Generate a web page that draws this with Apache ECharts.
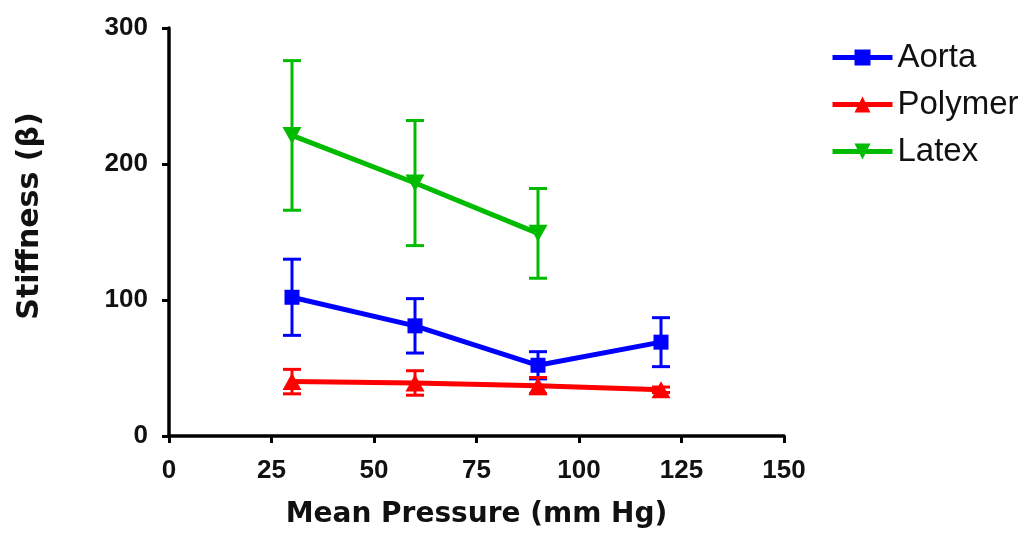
<!DOCTYPE html>
<html>
<head>
<meta charset="utf-8">
<script src="https://cdn.jsdelivr.net/npm/echarts@6/dist/echarts.min.js"></script>
<style>
  html, body { margin: 0; padding: 0; background: #fff; }
  #chart { width: 1021px; height: 535px; }
</style>
</head>
<body>
<div id="chart"></div>
<script>
const pressure = [30, 60, 90, 120]
const latexPressure = [30, 60, 90]

const aortaMean = [102, 81, 52, 69]
const aortaSem = [28, 20, 10, 18]
const polymerMean = [40, 39, 37, 34]
const polymerSem = [9, 9, 6, 2]
const latexMean = [221, 186, 149]
const latexSem = [55, 46, 33]

const seriesNames = ['Aorta', 'Polymer', 'Latex']
const colors = ['#0000ff', '#ff0000', '#00bb00']

const groups = [
  { name: 'Aorta', x: pressure, mean: aortaMean, sem: aortaSem, symbol: 'rect', size: 15, rotate: 0 },
  { name: 'Polymer', x: pressure, mean: polymerMean, sem: polymerSem, symbol: 'triangle', size: [19, 17], rotate: 0 },
  { name: 'Latex', x: latexPressure, mean: latexMean, sem: latexSem, symbol: 'triangle', size: [19, 17], rotate: 180 }
]

function errorBars(color) {
  return function (params, api) {
    const x = api.value(0)
    const lo = api.coord([x, api.value(1)])
    const hi = api.coord([x, api.value(2)])
    const hw = 9
    const style = { stroke: color, lineWidth: 3 }
    return {
      type: 'group',
      children: [
        { type: 'line', shape: { x1: hi[0], y1: hi[1], x2: lo[0], y2: lo[1] }, style },
        { type: 'line', shape: { x1: hi[0] - hw, y1: hi[1], x2: hi[0] + hw, y2: hi[1] }, style },
        { type: 'line', shape: { x1: lo[0] - hw, y1: lo[1], x2: lo[0] + hw, y2: lo[1] }, style }
      ]
    }
  }
}

const series = []
groups.forEach((g, i) => {
  series.push({
    type: 'custom',
    renderItem: errorBars(colors[i]),
    encode: { x: 0, y: [1, 2] },
    data: g.x.map((p, k) => [p, g.mean[k] - g.sem[k], g.mean[k] + g.sem[k]]),
    z: 2 + i * 2,
    silent: true
  })
  series.push({
    name: g.name,
    type: 'line',
    data: g.x.map((p, k) => [p, g.mean[k]]),
    symbol: g.symbol,
    symbolSize: g.size,
    symbolRotate: g.rotate,
    showSymbol: true,
    itemStyle: { color: colors[i] },
    lineStyle: { color: colors[i], width: 5 },
    z: 3 + i * 2
  })
})

const axisFont = 'Liberation Sans, Arial, sans-serif'
const titleFont = 'DejaVu Sans, sans-serif'

const chart = echarts.init(document.getElementById('chart'), null, { renderer: 'canvas' })
chart.setOption({
  animation: false,
  backgroundColor: '#fff',
  color: colors,
  legend: {
    data: seriesNames,
    orient: 'vertical',
    left: 825,
    top: 36,
    itemWidth: 60,
    itemHeight: 20,
    itemGap: 14,
    lineStyle: { width: 5 },
    textStyle: { color: '#111', fontSize: 33, fontFamily: axisFont }
  },
  grid: { left: 169, right: 237, top: 28, bottom: 99, containLabel: false },
  xAxis: {
    type: 'value',
    min: 0,
    max: 150,
    interval: 25,
    name: 'Mean Pressure (mm Hg)',
    nameLocation: 'middle',
    nameGap: 65,
    nameTextStyle: { color: '#111', fontSize: 28, fontWeight: 'bold', fontFamily: titleFont },
    axisLine: { onZero: false, lineStyle: { color: '#000', width: 3.5 } },
    axisTick: { length: 7, lineStyle: { color: '#000', width: 3 } },
    axisLabel: { color: '#111', fontSize: 26, fontWeight: 'bold', fontFamily: axisFont, margin: 22 },
    splitLine: { show: false }
  },
  yAxis: {
    type: 'value',
    min: 0,
    max: 300,
    interval: 100,
    name: 'Stiffness (β)',
    nameLocation: 'middle',
    nameGap: 124,
    nameTextStyle: { color: '#111', fontSize: 30, fontWeight: 'bold', fontFamily: titleFont, padding: [0, 0, 0, 32] },
    axisLine: { show: true, onZero: false, lineStyle: { color: '#000', width: 3.5 } },
    axisTick: { show: true, length: 7, lineStyle: { color: '#000', width: 3 } },
    axisLabel: { color: '#111', fontSize: 26, fontWeight: 'bold', fontFamily: axisFont, margin: 21 },
    splitLine: { show: false }
  },
  series
})
</script>
</body>
</html>
